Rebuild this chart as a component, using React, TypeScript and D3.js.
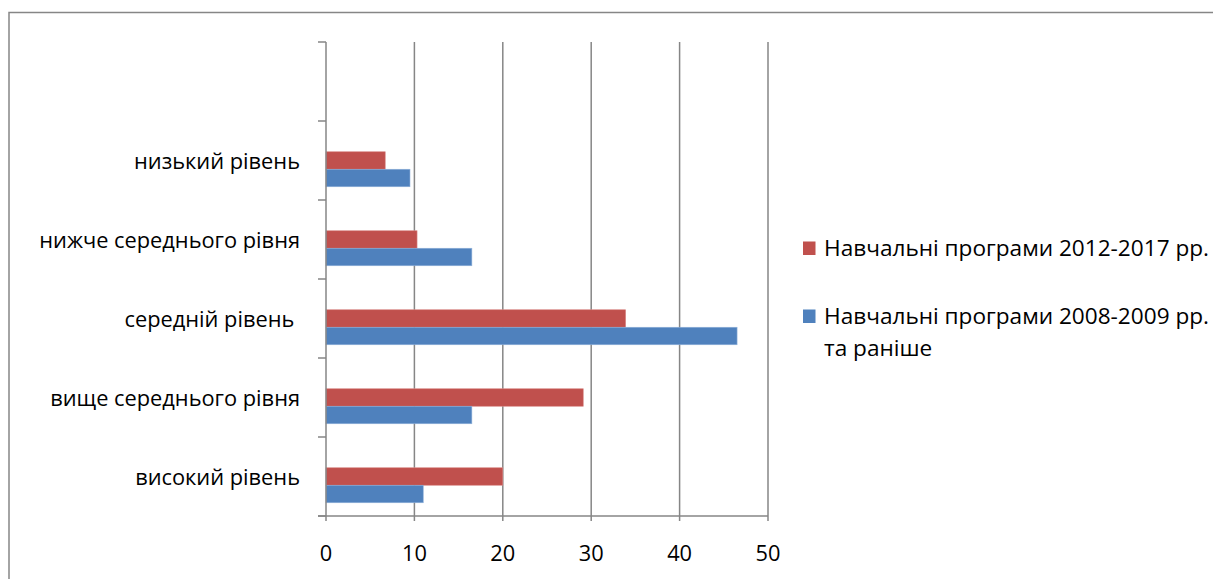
import React from "react";
import * as d3 from "d3";

const categories = ["високий рівень", "вище середнього рівня", "середній рівень ", "нижче середнього рівня", "низький рівень", ""];
const seriesNames = ["Навчальні програми 2008-2009 рр.", "Навчальні програми 2012-2017 рр.", ""];
const blueValues = [11, 16.5, 46.5, 16.5, 9.5];
const redValues = [20, 29.1, 33.9, 10.3, 6.7];
const xTicks = [0, 10, 20, 30, 40, 50];

const W = 1213, H = 579;
const FONT = "Open Sans, Noto Sans, sans-serif";
const GRID = "#868686";
const RED = "#C0504D";
const BLUE = "#4F81BD";
const FS = 21.8;
const LFS = 22.6;

export default function App() {
  const x = d3.scaleLinear().domain([0, 50]).range([326, 768]);
  const y = d3.scaleBand<string>().domain([...categories].reverse()).range([42, 516]).paddingInner(0).paddingOuter(0);
  const sub = d3.scaleBand<string>().domain(["s3", "red", "blue"]).range([0, y.bandwidth()]).paddingInner(0).paddingOuter(0.757);
  const bw = sub.bandwidth();
  const boundaries = [...categories].reverse().map((c) => y(c) as number).concat([516]);

  return (
    <svg width={W} height={H} style={{ position: "absolute", left: 0, top: 0, background: "#fff" }} fontFamily={FONT}>
      <rect x={9} y={12.5} width={1300} height={700} fill="#fff" stroke={GRID} strokeWidth={1.5} />
      {/* gridlines */}
      {xTicks.filter((t) => t > 0).map((t) => (
        <line key={"g" + t} x1={x(t)} x2={x(t)} y1={42} y2={521} stroke={GRID} strokeWidth={1.5} />
      ))}
      {/* bars */}
      {categories.slice(0, 5).map((c, i) => (
        <g key={"b" + i}>
          <rect x={x(0)} y={(y(c) as number) + (sub("red") as number)} width={x(redValues[i]) - x(0)} height={bw} fill={RED} stroke="#d98b89" strokeWidth={0.6} />
          <rect x={x(0)} y={(y(c) as number) + (sub("blue") as number)} width={x(blueValues[i]) - x(0)} height={bw} fill={BLUE} stroke="#8fb0d9" strokeWidth={0.6} />
        </g>
      ))}
      {/* y axis */}
      <line x1={x(0)} x2={x(0)} y1={42} y2={521} stroke={GRID} strokeWidth={1.5} />
      {boundaries.map((b, i) => (
        <line key={"yt" + i} x1={318} x2={x(0)} y1={b} y2={b} stroke={GRID} strokeWidth={1.5} />
      ))}
      {/* x axis */}
      <line x1={318} x2={x(50)} y1={516} y2={516} stroke={GRID} strokeWidth={1.5} />
      {xTicks.map((t) => (
        <text key={"xl" + t} x={x(t)} y={561} textAnchor="middle" fontSize={FS} fill="#000">{t}</text>
      ))}
      {categories.slice(0, 5).map((c, i) => (
        <text key={"cl" + i} x={300} y={(y(c) as number) + y.bandwidth() / 2 + 8} textAnchor="end" fontSize={FS} fill="#000" style={{ whiteSpace: "pre" }}>{c}</text>
      ))}
      {/* legend */}
      <rect x={803} y={241.5} width={12.5} height={13.5} fill={RED} />
      <text x={824} y={256} fontSize={LFS} fill="#000">{seriesNames[1]}</text>
      <rect x={803} y={309.5} width={12.5} height={13.5} fill={BLUE} />
      <text x={824} y={324} fontSize={LFS} fill="#000">{seriesNames[0]}</text>
      <text x={824} y={356} fontSize={LFS} fill="#000">та раніше</text>
    </svg>
  );
}
